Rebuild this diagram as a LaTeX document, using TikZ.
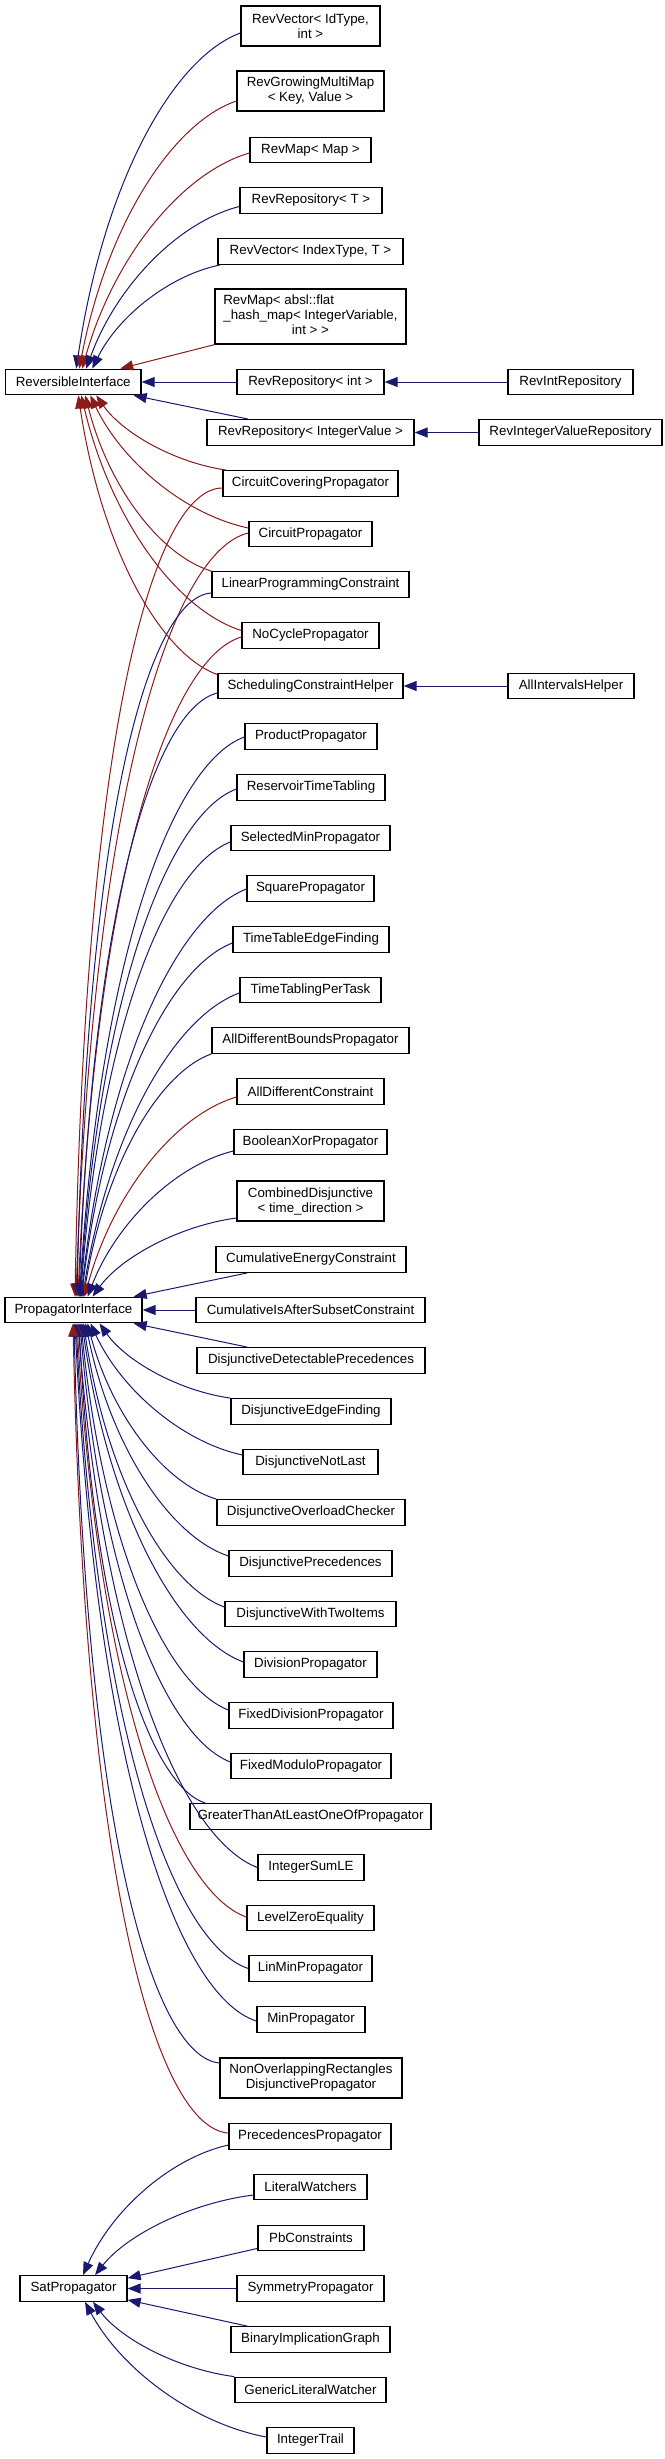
\documentclass[tikz,border=0pt]{standalone}
\usepackage{fontspec}
\setmainfont{Liberation Sans}
\usetikzlibrary{arrows.meta,calc}
\definecolor{mblue}{RGB}{25,25,112}
\definecolor{fbred}{RGB}{139,26,26}
\tikzset{
  cls/.style={draw=black, line width=1.3pt, fill=white, inner sep=0pt,
    minimum height=25.5pt, font=\fontsize{13.33}{15}\selectfont, align=center},
  pub/.style={draw=mblue, line width=1pt, -{Triangle[length=13pt,width=10pt]}},
  prot/.style={draw=fbred, line width=1pt, -{Triangle[length=13pt,width=10pt]}},
}
\newcommand\inh[3]{\draw[#1] let \p1=#2, \p2=#3, \n1={\x1-\x2}, \n2={\y2-\y1},
  \n3={min(1,max(0,(abs(\n2)/\n1-0.9)/4.6))},
  \n4={\x1-(0.4+0.05*\n3)*\n1}, \n5={\y1+0.1*(1-\n3)*\n2},
  \n6={\x2+(0.2-0.13*\n3)*\n1}, \n7={\y2-(0.5+0.22*\n3)*\n2}
  in (\p1) .. controls (\n4,\n5) and (\n6,\n7) .. (\p2);}
\begin{document}
\begin{tikzpicture}[x=1pt,y=-1pt]
\useasboundingbox (0,0) rectangle (664,2459);
\fill[white] (0,0) rectangle (664,2459);
% nodes
\node[cls,minimum width=139pt,minimum height=40pt] (rv1) at (310.5,26) {RevVector< IdType,\\int >};
\node[cls,minimum width=147pt,minimum height=40pt] (rgmm) at (310.5,91) {RevGrowingMultiMap\\< Key, Value >};
\node[cls,minimum width=121pt] (rmap) at (310.5,150) {RevMap< Map >};
\node[cls,minimum width=142pt] (rrt) at (311,200.5) {RevRepository< T >};
\node[cls,minimum width=185pt] (rvit) at (310.5,251.5) {RevVector< IndexType, T >};
\node[cls,minimum width=191pt,minimum height=55pt] (absl) at (310.5,316.5) {\begin{tabular}{@{}l@{}}RevMap< absl::flat\\\_hash\_map< IntegerVariable,\\\multicolumn{1}{@{}c@{}}{int > >}\end{tabular}};
\node[cls,minimum width=147pt] (revint) at (310.5,382) {RevRepository< int >};
\node[cls,minimum width=135.5pt] (revi) at (73.25,382) {ReversibleInterface};
\node[cls,minimum width=125pt] (rir) at (570.5,382) {RevIntRepository};
\node[cls,minimum width=207pt] (rriv) at (310.5,432.5) {RevRepository< IntegerValue >};
\node[cls,minimum width=183pt] (rivr) at (570.5,432.5) {RevIntegerValueRepository};
\node[cls,minimum width=175pt] (ccp) at (310.5,483.5) {CircuitCoveringPropagator};
\node[cls,minimum width=123pt] (cp) at (310.5,534) {CircuitPropagator};
\node[cls,minimum width=197pt] (lpc) at (310.5,584.5) {LinearProgrammingConstraint};
\node[cls,minimum width=137pt] (ncp) at (310.5,635.5) {NoCyclePropagator};
\node[cls,minimum width=185pt] (sch) at (310.5,686) {SchedulingConstraintHelper};
\node[cls,minimum width=126pt] (aih) at (571,686) {AllIntervalsHelper};
\node[cls,minimum width=132pt] (prod) at (311,736.5) {ProductPropagator};
\node[cls,minimum width=148pt] (rtt) at (311,787.5) {ReservoirTimeTabling};
\node[cls,minimum width=159pt] (smp) at (310.5,838) {SelectedMinPropagator};
\node[cls,minimum width=127pt] (sqp) at (310.5,888.5) {SquarePropagator};
\node[cls,minimum width=156pt] (ttef) at (311,939.5) {TimeTableEdgeFinding};
\node[cls,minimum width=141pt] (ttpt) at (310.5,990) {TimeTablingPerTask};
\node[cls,minimum width=197pt] (adbp) at (310.5,1040.5) {AllDifferentBoundsPropagator};
\node[cls,minimum width=147pt] (adc) at (310.5,1091.5) {AllDifferentConstraint};
\node[cls,minimum width=153pt] (bxp) at (310.5,1142) {BooleanXorPropagator};
\node[cls,minimum width=147pt,minimum height=40pt] (cdj) at (310.5,1201) {CombinedDisjunctive\\< time\_direction >};
\node[cls,minimum width=190pt] (cec) at (311,1259.5) {CumulativeEnergyConstraint};
\node[cls,minimum width=137pt] (pi) at (73.5,1310) {PropagatorInterface};
\node[cls,minimum width=229pt] (ciasc) at (310.5,1310) {CumulativeIsAfterSubsetConstraint};
\node[cls,minimum width=228pt] (ddp) at (311,1360.5) {DisjunctiveDetectablePrecedences};
\node[cls,minimum width=160pt] (def) at (311,1411.5) {DisjunctiveEdgeFinding};
\node[cls,minimum width=135pt] (dnl) at (310.5,1462) {DisjunctiveNotLast};
\node[cls,minimum width=188pt] (doc) at (311,1512.5) {DisjunctiveOverloadChecker};
\node[cls,minimum width=163pt] (dp) at (310.5,1563.5) {DisjunctivePrecedences};
\node[cls,minimum width=171pt] (dwti) at (310.5,1614) {DisjunctiveWithTwoItems};
\node[cls,minimum width=133pt] (divp) at (310.5,1664.5) {DivisionPropagator};
\node[cls,minimum width=164pt] (fdp) at (311,1715.5) {FixedDivisionPropagator};
\node[cls,minimum width=160pt] (fmp) at (311,1766) {FixedModuloPropagator};
\node[cls,minimum width=241pt] (gt) at (310.5,1816.5) {GreaterThanAtLeastOneOfPropagator};
\node[cls,minimum width=106pt] (isle) at (311,1867.5) {IntegerSumLE};
\node[cls,minimum width=127pt] (lze) at (310.5,1918) {LevelZeroEquality};
\node[cls,minimum width=123pt] (lmp) at (310.5,1968.5) {LinMinPropagator};
\node[cls,minimum width=108pt] (mp) at (311,2019.5) {MinPropagator};
\node[cls,minimum width=182pt,minimum height=40pt] (nor) at (311,2078) {NonOverlappingRectangles\\DisjunctivePropagator};
\node[cls,minimum width=162pt] (pp) at (310,2136.5) {PrecedencesPropagator};
\node[cls,minimum width=113pt] (lw) at (310.5,2187) {LiteralWatchers};
\node[cls,minimum width=106pt] (pbc) at (311,2238) {PbConstraints};
\node[cls,minimum width=107pt] (sat) at (73.5,2288.5) {SatPropagator};
\node[cls,minimum width=147pt] (sym) at (310.5,2288.5) {SymmetryPropagator};
\node[cls,minimum width=159pt] (big) at (310.5,2339.5) {BinaryImplicationGraph};
\node[cls,minimum width=151pt] (glw) at (310.5,2390) {GenericLiteralWatcher};
\node[cls,minimum width=87pt] (it) at (310.5,2440.5) {IntegerTrail};
% edges to ReversibleInterface
\inh{pub}{($(rv1.west)+(0,7)$)}{($(revi.north)+(3,0)$)}
\inh{prot}{($(rgmm.west)+(0,10)$)}{($(revi.north)+(6,0)$)}
\inh{prot}{($(rmap.west)+(0,3)$)}{($(revi.north)+(9,0)$)}
\inh{pub}{($(rrt.west)+(0,6)$)}{($(revi.north)+(13,0)$)}
\inh{pub}{($(rvit.south west)+(3,0)$)}{($(revi.north)+(19,0)$)}
\draw[prot] (absl.south west) -- ($(revi.north)+(47,0)$);
\draw[pub] (revint.west) -- (revi.east);
\draw[pub] ($(rriv.north west)+(42,0)$) -- ($(revi.south east)+(-8,0)$);
\inh{prot}{($(ccp.north west)+(4,0)$)}{($(revi.south)+(23,0)$)}
\inh{prot}{($(cp.west)+(0,-6)$)}{($(revi.south)+(17,0)$)}
\inh{prot}{(lpc.north west)}{($(revi.south)+(12,0)$)}
\inh{prot}{($(ncp.west)+(0,-5)$)}{($(revi.south)+(8,0)$)}
\inh{prot}{($(sch.north west)+(0,2)$)}{($(revi.south)+(5,0)$)}
% edges to PropagatorInterface (from above)
\inh{prot}{($(ccp.west)+(0,4.5)$)}{($(pi.north)+(1.5,0)$)}
\inh{prot}{($(cp.west)+(0,-1)$)}{($(pi.north)+(2.5,0)$)}
\inh{pub}{($(lpc.west)+(0,8.5)$)}{($(pi.north)+(3.5,0)$)}
\inh{prot}{($(ncp.west)+(0,1.5)$)}{($(pi.north)+(4.5,0)$)}
\inh{pub}{($(sch.west)+(0,7)$)}{($(pi.north)+(5.5,0)$)}
\inh{pub}{($(prod.west)+(0,0.5)$)}{($(pi.north)+(6,0)$)}
\inh{pub}{($(rtt.west)+(0,1.5)$)}{($(pi.north)+(6.5,0)$)}
\inh{pub}{($(smp.west)+(0,4)$)}{($(pi.north)+(7,0)$)}
\inh{pub}{($(sqp.west)+(0,0.5)$)}{($(pi.north)+(7.5,0)$)}
\inh{pub}{($(ttef.west)+(0,3.5)$)}{($(pi.north)+(8,0)$)}
\inh{pub}{($(ttpt.west)+(0,3)$)}{($(pi.north)+(9,0)$)}
\inh{pub}{(adbp.south west)}{($(pi.north)+(10,0)$)}
\inh{prot}{($(adc.west)+(0,5.5)$)}{($(pi.north)+(11,0)$)}
\inh{pub}{($(bxp.west)+(0,9)$)}{($(pi.north)+(14,0)$)}
\inh{pub}{($(cdj.west)+(0,17)$)}{($(pi.north)+(19,0)$)}
\draw[pub] ($(cec.south west)+(32,0)$) -- ($(pi.north east)+(-9,0)$);
\draw[pub] (ciasc.west) -- (pi.east);
% edges to PropagatorInterface (from below)
\draw[pub] ($(ddp.north west)+(51,0)$) -- ($(pi.south east)+(-9,0)$);
\inh{pub}{(def.north west)}{($(pi.south)+(26,0)$)}
\inh{pub}{($(dnl.west)+(0,-7)$)}{($(pi.south)+(17,0)$)}
\inh{pub}{(doc.north west)}{($(pi.south)+(14,0)$)}
\inh{pub}{($(dp.west)+(0,-7.5)$)}{($(pi.south)+(12,0)$)}
\inh{pub}{($(dwti.west)+(0,-7)$)}{($(pi.south)+(10,0)$)}
\inh{pub}{($(divp.west)+(0,-2.5)$)}{($(pi.south)+(8.5,0)$)}
\inh{pub}{($(fdp.west)+(0,-5.5)$)}{($(pi.south)+(7.5,0)$)}
\inh{pub}{($(fmp.west)+(0,-4)$)}{($(pi.south)+(6.5,0)$)}
\inh{pub}{($(gt.north west)+(16,0)$)}{($(pi.south)+(5.5,0)$)}
\inh{pub}{(isle.west)}{($(pi.south)+(4.5,0)$)}
\inh{prot}{($(lze.west)+(0,-1)$)}{($(pi.south)+(3.5,0)$)}
\inh{pub}{(lmp.west)}{($(pi.south)+(2.5,0)$)}
\inh{pub}{($(mp.west)+(0,1.5)$)}{($(pi.south)+(1.5,0)$)}
\inh{pub}{($(nor.west)+(0,-15)$)}{($(pi.south)+(0.5,0)$)}
\inh{prot}{($(pp.west)+(0,-3.5)$)}{($(pi.south)+(-0.5,0)$)}
% edges to SatPropagator
\inh{pub}{($(pp.west)+(0,8.5)$)}{($(sat.north)+(9.5,0)$)}
\inh{pub}{($(lw.west)+(0,8)$)}{($(sat.north)+(21.5,0)$)}
\draw[pub] ($(pbc.south west)+(0,-3)$) -- ($(sat.north east)+(0,3)$);
\draw[pub] (sym.west) -- (sat.east);
\draw[pub] ($(big.north west)+(17,0)$) -- ($(sat.south east)+(0,-2)$);
\inh{pub}{(glw.north west)}{($(sat.south)+(19.5,0)$)}
\inh{pub}{($(it.west)+(0,-3.5)$)}{($(sat.south)+(11.5,0)$)}
% right column
\draw[pub] (rir.west) -- (revint.east);
\draw[pub] (rivr.west) -- (rriv.east);
\draw[pub] (aih.west) -- (sch.east);
\end{tikzpicture}
\end{document}
